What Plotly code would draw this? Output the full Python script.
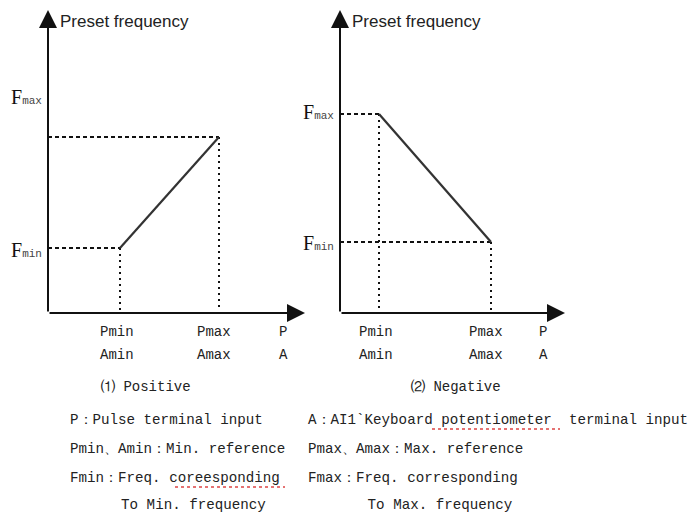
import plotly.graph_objects as go

W, H = 697, 516

# schematic values, in pixels measured from each panel's origin
esq_p = [72, 171]          # Pmin, Pmax (left, positive)
esq_f = [65, 176]          # Fmin, Fmax
dir_p = [39, 151]          # Pmin, Pmax (right, negative)
dir_f = [199, 71]          # Fmax at Pmin, Fmin at Pmax
esq_fim_x = 257
dir_fim_x = 225
topo_y = 303

rotulos_x1 = ['Pmin', 'Pmax', 'P']
rotulos_x2 = ['Amin', 'Amax', 'A']
legenda_linhas = [
    ('P：Pulse terminal input', 'A：AI1`Keyboard potentiometer  terminal input'),
    ('Pmin、Amin：Min. reference', 'Pmax、Amax：Max. reference'),
    ('Fmin：Freq. coreesponding', 'Fmax：Freq. corresponding'),
    ('      To Min. frequency', '       To Max. frequency'),
]

MONO = 'Liberation Mono'
SERIF = 'Liberation Serif'
SANS = 'Liberation Sans'
TXT = '#222'

fig = go.Figure()

guia = dict(color='#111', width=2, dash='4px,3px')
guia_v = dict(color='#111', width=2, dash='2px,4px')

# left panel
fig.add_trace(go.Scatter(x=[0, esq_p[1], None, 0, esq_p[0]],
                         y=[esq_f[1], esq_f[1], None, esq_f[0], esq_f[0]],
                         mode='lines', line=guia, xaxis='x', yaxis='y'))
fig.add_trace(go.Scatter(x=[esq_p[0], esq_p[0], None, esq_p[1], esq_p[1]],
                         y=[esq_f[0], 3, None, esq_f[1], 3],
                         mode='lines', line=guia_v, xaxis='x', yaxis='y'))
fig.add_trace(go.Scatter(x=esq_p, y=esq_f, mode='lines',
                         line=dict(color='#333', width=2.2), xaxis='x', yaxis='y'))

# right panel
fig.add_trace(go.Scatter(x=[0, dir_p[0], None, 0, dir_p[1]],
                         y=[dir_f[0], dir_f[0], None, dir_f[1], dir_f[1]],
                         mode='lines', line=guia, xaxis='x2', yaxis='y'))
fig.add_trace(go.Scatter(x=[dir_p[0], dir_p[0], None, dir_p[1], dir_p[1]],
                         y=[dir_f[0], 3, None, dir_f[1], 3],
                         mode='lines', line=guia_v, xaxis='x2', yaxis='y'))
fig.add_trace(go.Scatter(x=dir_p, y=dir_f, mode='lines',
                         line=dict(color='#333', width=2.2), xaxis='x2', yaxis='y'))

anot = []
# axes with arrows
for xr, fim in (('x', esq_fim_x), ('x2', dir_fim_x)):
    anot.append(dict(x=fim, y=0, ax=0, ay=0, xref=xr, yref='y', axref=xr, ayref='y',
                     showarrow=True, arrowhead=2, arrowsize=1.8, arrowwidth=2,
                     arrowcolor='#111', text=''))
    anot.append(dict(x=0, y=topo_y, ax=0, ay=0, xref=xr, yref='y', axref=xr, ayref='y',
                     showarrow=True, arrowhead=2, arrowsize=1.8, arrowwidth=2,
                     arrowcolor='#111', text=''))
    anot.append(dict(x=0, y=topo_y - 11, xref=xr, yref='y', text='Preset frequency',
                     showarrow=False, xanchor='left', yanchor='middle', xshift=10,
                     font=dict(family=SANS, size=17, color=TXT)))

# F labels
def rotulo_f(xr, y, nome):
    return dict(x=0, y=y, xref=xr, yref='y', showarrow=False, xanchor='right',
                yanchor='middle', xshift=-4,
                text=f'F<span style="font-family:{MONO};font-size:11px;fill:#444">{nome}</span>',
                font=dict(family=SERIF, size=20, color='#111'))

anot += [rotulo_f('x', 216, 'max'), rotulo_f('x', 63, 'min'),
         rotulo_f('x2', 201, 'max'), rotulo_f('x2', 70, 'min')]

# labels under x axes
for xr, ps, fim in (('x', esq_p, esq_fim_x), ('x2', dir_p, dir_fim_x)):
    xs = [ps[0] - 3, ps[1] - 5, fim - 22]
    for xx, t1, t2 in zip(xs, rotulos_x1, rotulos_x2):
        anot.append(dict(x=xx, y=0, xref=xr, yref='y', text=t1, showarrow=False,
                         xanchor='center', yanchor='middle', yshift=-19,
                         font=dict(family=MONO, size=14, color=TXT)))
        anot.append(dict(x=xx, y=0, xref=xr, yref='y', text=t2, showarrow=False,
                         xanchor='center', yanchor='middle', yshift=-42,
                         font=dict(family=MONO, size=14, color=TXT)))

anot.append(dict(x=146 / W, y=1 - 387 / H, xref='paper', yref='paper', text='⑴ Positive',
                 showarrow=False, xanchor='center', yanchor='middle',
                 font=dict(family=MONO, size=14, color=TXT)))
anot.append(dict(x=456 / W, y=1 - 387 / H, xref='paper', yref='paper', text='⑵ Negative',
                 showarrow=False, xanchor='center', yanchor='middle',
                 font=dict(family=MONO, size=14, color=TXT)))

linhas_y = [420, 449, 478, 505]
for (esq, dire), yy in zip(legenda_linhas, linhas_y):
    anot.append(dict(x=68 / W, y=1 - yy / H, xref='paper', yref='paper', text=esq.replace(' ', '&nbsp;'),
                     showarrow=False, xanchor='left', yanchor='middle',
                     font=dict(family=MONO, size=14.2, color=TXT)))
    anot.append(dict(x=306 / W, y=1 - yy / H, xref='paper', yref='paper', text=dire.replace(' ', '&nbsp;'),
                     showarrow=False, xanchor='left', yanchor='middle',
                     font=dict(family=MONO, size=14.2, color=TXT)))

# spell-check underlines
for x0, x1, yy in ((175, 285, 487), (432, 560, 429)):
    fig.add_shape(type='line', xref='paper', yref='paper', x0=x0 / W, x1=x1 / W,
                  y0=1 - yy / H, y1=1 - yy / H, line=dict(color='#d44', width=1.5, dash='dot'))

fig.update_layout(
    width=W, height=H, margin=dict(l=0, r=0, t=0, b=0),
    plot_bgcolor='white', paper_bgcolor='white', showlegend=False,
    xaxis=dict(range=[-48, W - 48], visible=False, fixedrange=True),
    xaxis2=dict(range=[-340, W - 340], visible=False, overlaying='x', fixedrange=True),
    yaxis=dict(range=[-(H - 313), 313], visible=False, fixedrange=True),
    annotations=anot,
)

fig.write_html("out.html", config={'displayModeBar': False},
               post_script="document.body.style.margin='0';")
